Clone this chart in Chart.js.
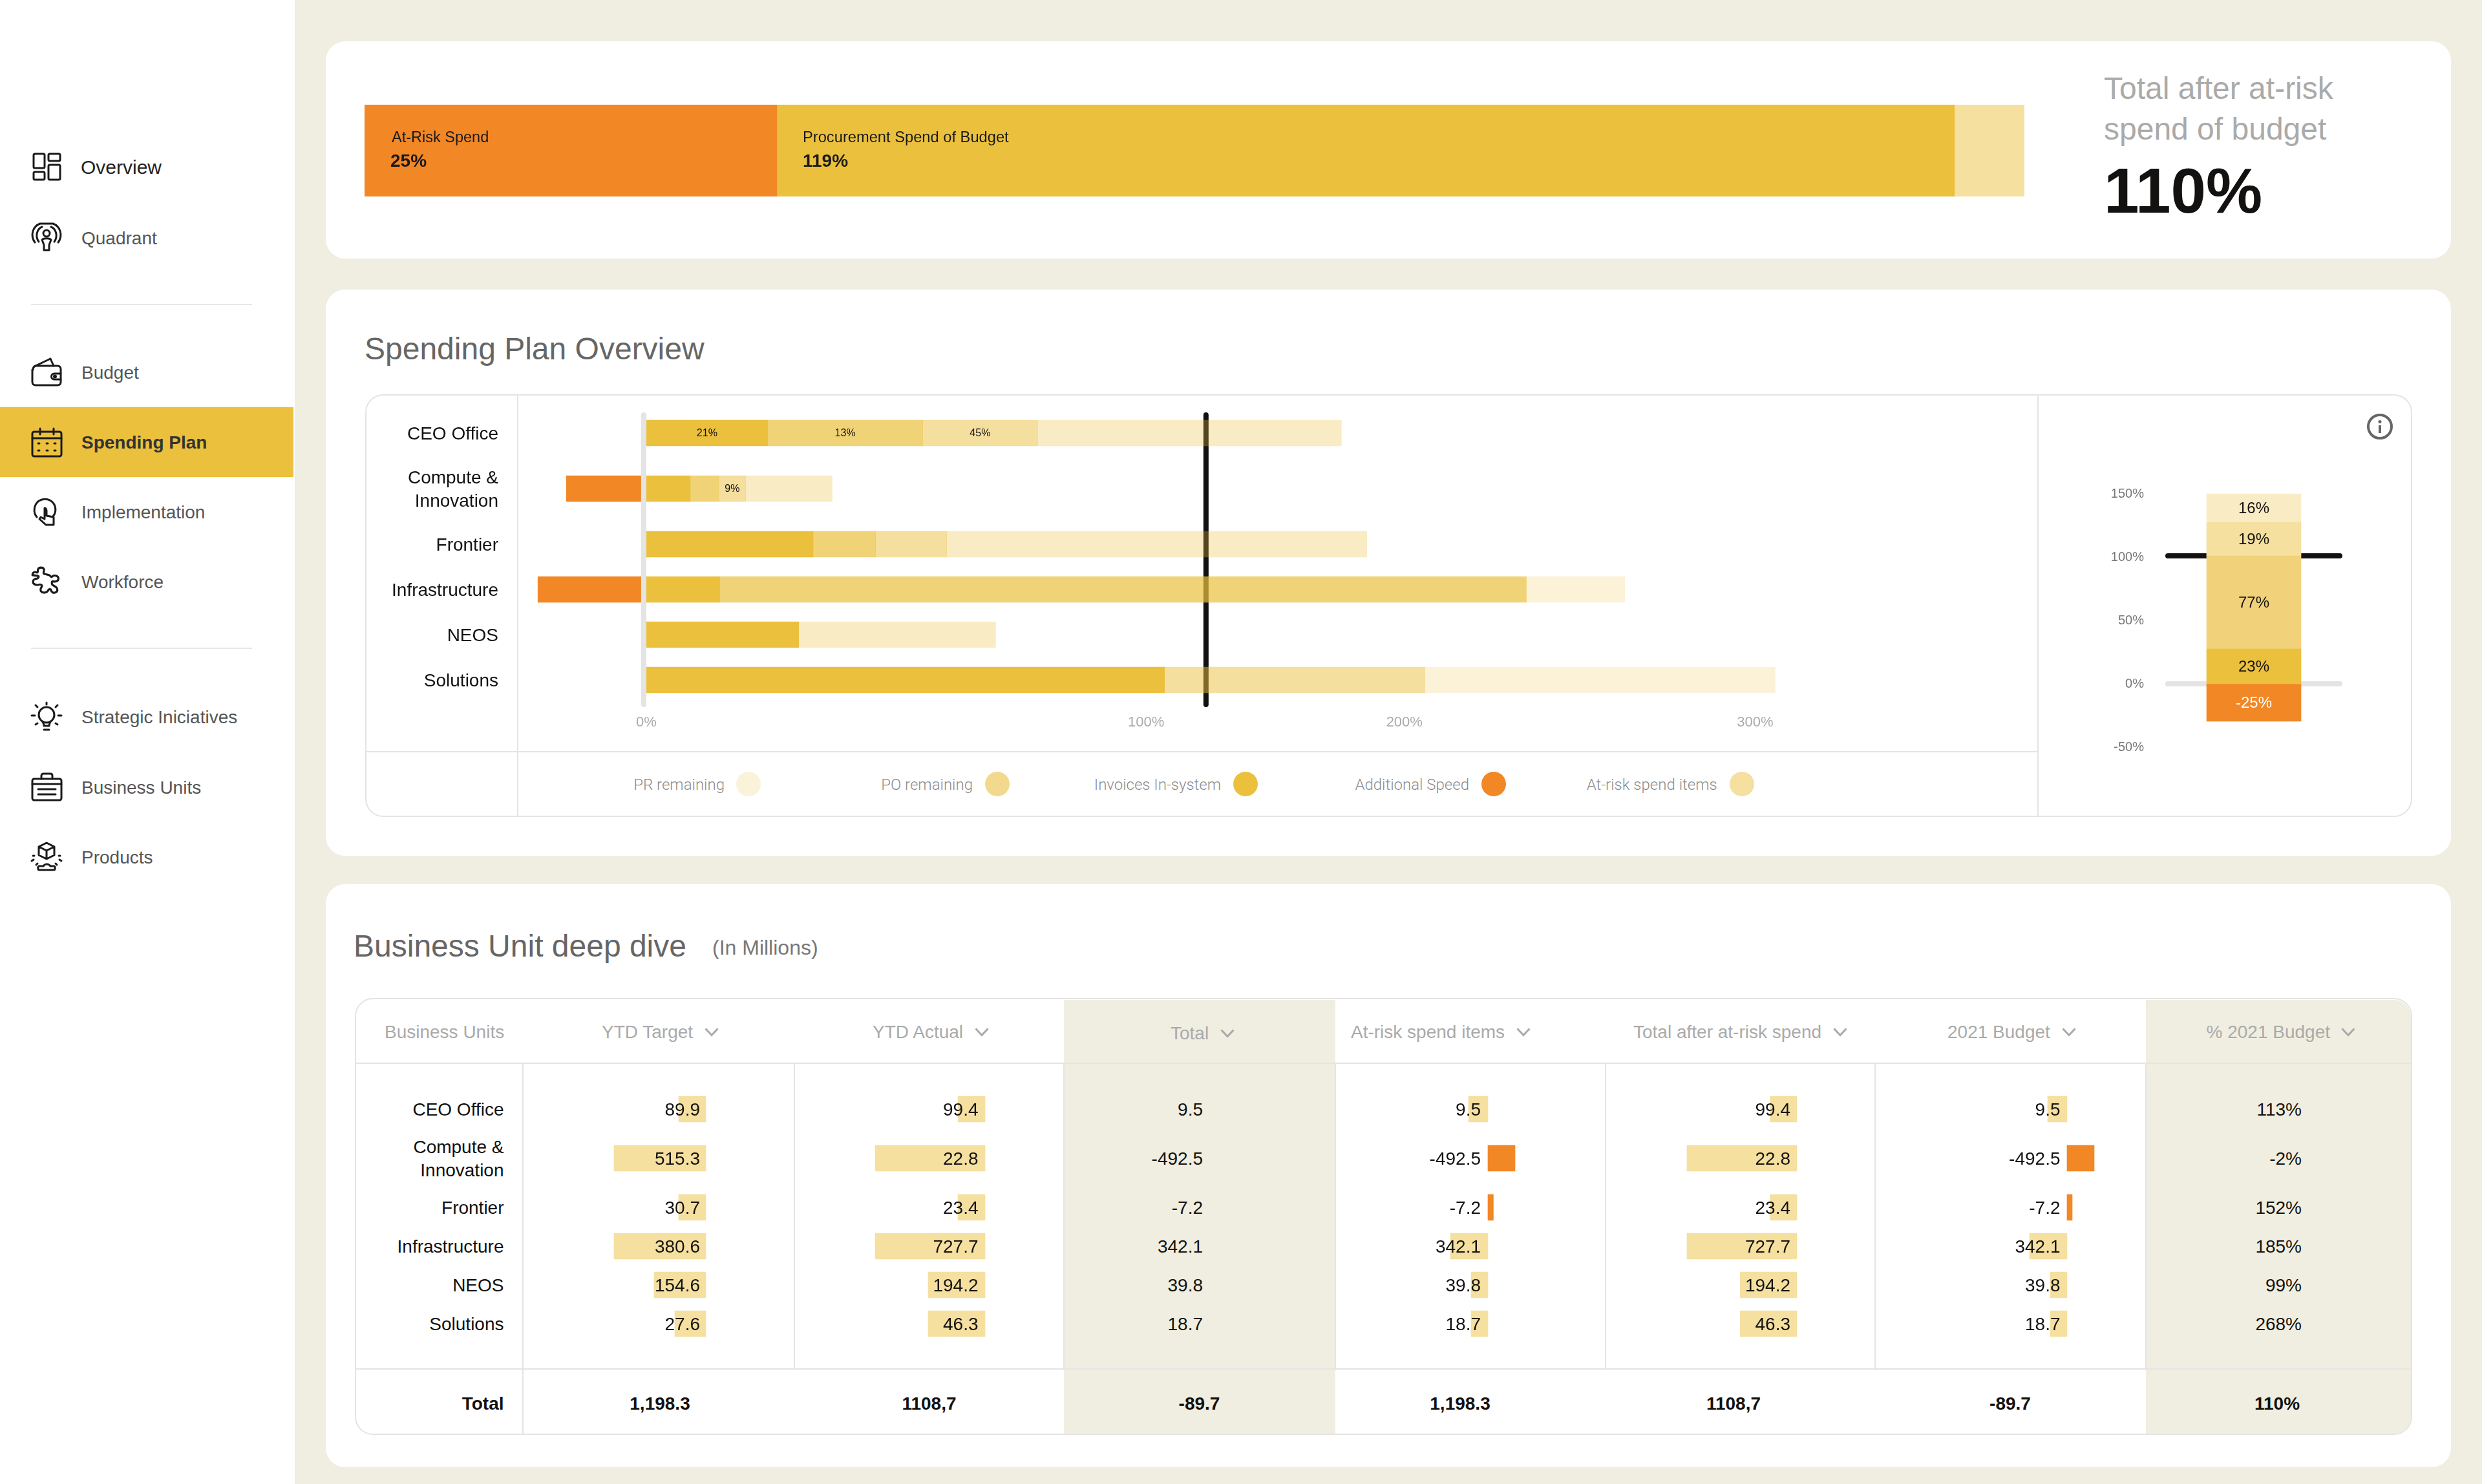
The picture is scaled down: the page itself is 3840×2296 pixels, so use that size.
<!DOCTYPE html>
<html><head><meta charset="utf-8">
<script src="https://cdn.jsdelivr.net/npm/chart.js@4"></script>
<style>
html,body{margin:0;padding:0;width:3840px;height:2296px;overflow:hidden;background:#f0eee0;font-family:"Liberation Sans",Arial,sans-serif}
#root{position:absolute;left:0;top:0;width:3840px;height:2296px}
.b{position:absolute;box-sizing:border-box}
.t{position:absolute;white-space:nowrap;line-height:1}
canvas{position:absolute;display:block}
svg{position:absolute;overflow:visible}
</style></head><body><div id="root"></div>
<script>
/* ---------- data ---------- */
const navItems=['Overview','Quadrant','Budget','Spending Plan','Implementation','Workforce','Strategic Iniciatives','Business Units','Products'];
const topBarLabels=['At-Risk Spend','Procurement Spend of Budget'];
const topBarTexts=['25%','119%'];
const topAtRisk=[24.84];
const topProcurement=[70.95];
const topRemainder=[4.21];
const units=['CEO Office',['Compute &','Innovation'],'Frontier','Infrastructure','NEOS','Solutions'];
const planRows=[0,86,172,242,312,382];
const planInvoices=[24.3,8.8,33.4,14.7,30.5,103.7];
const planPO=[31.0,5.7,12.5,161.4,null,null];
const planAtRisk=[23.0,5.4,14.2,null,null,52.1];
const planPR=[60.8,17.3,84.1,19.7,39.4,70.1];
const planAdditional=[null,-16.0,null,-21.7,null,null];
const planInvoiceLabels=['21%','','','','',''];
const planPOLabels=['13%','','','','',''];
const planAtRiskLabels=['45%','9%','','','',''];
const planTickValues=[0,100,151.7,221.9];
const planTickLabels=['0%','100%','200%','300%'];
const planTarget=[112];
const legendLabels=['PR remaining','PO remaining','Invoices In-system','Additional Speed','At-risk spend items'];
const sideTicks=[-50,0,50,100,150];
const sideValues=[27.5,73.5,26.5,22.5,-29.6];
const sideLabels=['23%','77%','19%','16%','-25%'];
const sideTarget=[101];
const tableRows=[0,76,152,212,272,332];
const tableHeaders=['Business Units','YTD Target','YTD Actual','Total','At-risk spend items','Total after at-risk spend','2021 Budget','% 2021 Budget'];
const tableUnits=['CEO Office',['Compute &','Innovation'],'Frontier','Infrastructure','NEOS','Solutions'];
const ytdTarget=['89.9','515.3','30.7','380.6','154.6','27.6'];
const ytdActual=['99.4','22.8','23.4','727.7','194.2','46.3'];
const totals=['9.5','-492.5','-7.2','342.1','39.8','18.7'];
const atRisk=['9.5','-492.5','-7.2','342.1','39.8','18.7'];
const afterRisk=['99.4','22.8','23.4','727.7','194.2','46.3'];
const budget2021=['9.5','-492.5','-7.2','342.1','39.8','18.7'];
const pctBudget=['113%','-2%','152%','185%','99%','268%'];
const ytdTargetBars=[42,142,42,142,80,48];
const ytdActualBars=[42,170,42,170,88,88];
const atRiskBars=[30,-42,-8.4,58,26,26];
const afterRiskBars=[41.4,170,41.4,170,87.6,87.6];
const budgetBars=[30,-42,-8,58,26,26];
const totalRow=['Total','1,198.3','1108,7','-89.7','1,198.3','1108,7','-89.7','110%'];

/* ---------- colours ---------- */
const ORANGE='#f28726',YEL='#ebc03d',Y7='#f1d27a',Y5='#f5e0a0',Y3='#f9ecc5',Y2='#fbf2da',BG='#f0eee0',LINE='#e4e4e4',INK='#141210';
const a=v=>`rgba(235,192,61,${v})`;

/* ---------- page helpers ---------- */
const root=document.getElementById('root');
function box(x,y,w,h,style){const d=document.createElement('div');d.className='b';d.style.cssText=`left:${x}px;top:${y}px;width:${w}px;height:${h}px;${style||''}`;root.appendChild(d);return d;}
function txt(s,x,y,o){o=o||{};const d=document.createElement('div');d.className='t';d.textContent=s;
 const tx=o.align==='right'?'-100%':o.align==='center'?'-50%':'0';
 d.style.cssText=`left:${x}px;top:${y}px;transform:translate(${tx},-50%);font-size:${o.size||28}px;color:${o.color||'#111'};font-weight:${o.weight||400};font-family:${o.font||'"Liberation Sans"'};`;
 root.appendChild(d);return d;}
function canvas(x,y,w,h){const c=document.createElement('canvas');c.width=w;c.height=h;c.style.cssText=`left:${x}px;top:${y}px;width:${w}px;height:${h}px`;root.appendChild(c);return c;}
function svg(x,y,w,h,inner){const d=document.createElementNS('http://www.w3.org/2000/svg','svg');d.setAttribute('width',w);d.setAttribute('height',h);d.setAttribute('viewBox',`0 0 ${w} ${h}`);d.style.left=x+'px';d.style.top=y+'px';d.innerHTML=inner;root.appendChild(d);return d;}

Chart.defaults.font.family='"Liberation Sans"';
Chart.defaults.animation=false;
Chart.defaults.responsive=false;
Chart.defaults.devicePixelRatio=1;
Chart.defaults.plugins.legend.display=false;
Chart.defaults.plugins.tooltip.enabled=false;
const noPad={padding:0,autoPadding:false};

/* ---------- shell ---------- */
box(0,0,456,2296,'background:#fff');
box(0,630,454,108,`background:${YEL}`);
box(48,470,342,2,'background:#e8e8e8');
box(48,1002,342,2,'background:#e8e8e8');
box(504,64,3288,336,'background:#fff;border-radius:30px');
box(504,448,3288,876,'background:#fff;border-radius:30px');
box(504,1368,3288,902,'background:#fff;border-radius:30px');

/* nav */
const navY=[259,369,577,685,793,901,1110,1219,1327];
const S='fill="none" stroke="#1a1a1a" stroke-width="3" stroke-linecap="round" stroke-linejoin="round"';
const icons=[
`<g ${S}><rect x="4" y="4" width="17" height="22" rx="2"/><rect x="4" y="32" width="17" height="12" rx="2"/><rect x="27" y="4" width="18" height="11" rx="2"/><rect x="27" y="21" width="18" height="23" rx="2"/></g>`,
`<g ${S}><circle cx="24" cy="17" r="5"/><path d="M17 27c2-3 12-3 14 0l-3 8v8h-8v-8z"/><path d="M12 30C6 22 9 10 17 7M36 30c6-8 3-20-5-23"/><path d="M6 31C-2 20 3 6 14 2h20c11 4 16 18 8 29" /></g>`,
`<g ${S}><path d="M3 20c0-3 1-5 4-6L30 3l5 11"/><path d="M7 14h34c3 0 5 2 5 5v20c0 3-2 5-5 5H7c-3 0-5-2-5-5V20"/><path d="M46 26H36a4.500 4.500 0 0 0 0 9h10"/><circle cx="37" cy="30.500" r="1.500"/></g>`,
`<g ${S}><rect x="2" y="8" width="45" height="38" rx="3"/><path d="M2 18h45M14 3v9M35 3v9"/><path d="M11 26h2M24 26h2M36 26h2M11 37h2M24 37h2M36 37h2"/></g>`,
`<g ${S}><path d="M9 32C3 25 4 13 12 7c8-5 18-3 23 4 4 6 4 14-1 20"/><path d="M21 18v17l-6-3-2 3 10 9h12v-12l-11-2V22c0-4-3-4-3-4z"/></g>`,
`<g ${S} transform="translate(-1,-1) scale(1.06)"><path d="M3 14c0-4 3-5 6-4 2 1 2-2 2-4 1-4 8-4 9 0 0 3-2 5 0 6l7 2c3 1 3 4 5 2 3-3 9-1 9 3 0 4-5 5-8 4-2 0-2 3-1 5l6 4c2 2 2 6-1 7-3 2-6 0-7-3 0-2-3-2-4 0-1 3-7 5-10 2-3-3 0-6 1-8 0-2-3-3-5-2-4 1-9-1-8-5 0-3 4-4 6-4 2-1 3-3 1-4z"/></g>`,
`<g ${S}><circle cx="24" cy="21" r="12"/><path d="M18 32c2 3 2 5 2 6h8c0-1 0-3 2-6M20 44h8"/><path d="M24 2v3M7 6l3 3M41 6l-3 3M1 22h5M42 22h5M7 36l3-2M41 36l-3-2"/></g>`,
`<g ${S}><rect x="2" y="11" width="45" height="33" rx="3"/><path d="M16 11V6c0-2 2-3 3-3h11c2 0 3 1 3 3v5M2 19h45M11 27h27M11 35h27"/></g>`,
`<g ${S}><path d="M24 2l12 6v13l-12 6-12-6V8zM12 8l12 6 12-6M24 14v13"/><path d="M13 44c-3 0-3-6 0-6h6c3-4 8-4 11 0h5c3 0 3 6 0 6zM3 22l2 0M1 30l3-2M45 22l-2 0M47 30l-3-2M8 36l2-2M40 36l-2-2"/></g>`];
navItems.forEach((n,i)=>{
  svg(48,navY[i]-25,48,48,icons[i]);
  txt(n,i===0?125:126,navY[i],{size:i===0?30:28,color:i===0?'#222':(i===3?'#333':'#555'),weight:i===3?700:400});
});

/* ---------- top strip ---------- */
new Chart(canvas(564,162,2568,142),{type:'bar',
 data:{labels:[''],datasets:[
  {data:topAtRisk,backgroundColor:ORANGE},
  {data:topProcurement,backgroundColor:YEL},
  {data:topRemainder,backgroundColor:Y5}]},
 options:{indexAxis:'y',layout:noPad,barPercentage:1,categoryPercentage:1,
  scales:{x:{display:false,stacked:true,min:0,max:100},y:{display:false,stacked:true}}}});
txt(topBarLabels[0],606,213,{size:23.5,color:'#1a1a1a'});
txt(topBarTexts[0],604,249,{size:28,weight:700,color:'#1a1a1a'});
txt(topBarLabels[1],1242,213,{size:23.7,color:'#1a1a1a'});
txt(topBarTexts[1],1242,249,{size:28,weight:700,color:'#1a1a1a'});
txt('Total after at-risk',3255,137,{size:48,color:'#aaa'});
txt('spend of budget',3255,200,{size:48,color:'#aaa'});
txt('110%',3255,295,{size:98,weight:700,color:INK});

/* ---------- spending plan ---------- */
txt('Spending Plan Overview',564,540,{size:48,color:'#666'});
box(565,610,3167,654,`border:2px solid ${LINE};border-radius:28px`);
box(800,611,2,652,`background:${LINE}`);
box(3152,611,2,652,`background:${LINE}`);
box(566,1162,2587,2,`background:${LINE}`);

const planLines={id:'planLines',
 beforeDatasetsDraw(c){const g=c.ctx,x=c.scales.x,y=c.scales.y;
  g.save();g.lineCap='round';g.lineWidth=8;g.strokeStyle=INK;
  const px=x.getPixelForValue(planTarget[0]);
  g.beginPath();g.moveTo(px,y.top+30);g.lineTo(px,y.bottom-10);g.stroke();g.restore();},
 afterDatasetsDraw(c){const g=c.ctx,x=c.scales.x,y=c.scales.y;
  g.save();g.lineCap='round';g.lineWidth=8;g.strokeStyle=LINE;
  const px=x.getPixelForValue(0)-4;
  g.beginPath();g.moveTo(px,y.top+30);g.lineTo(px,y.bottom-10);g.stroke();
  g.fillStyle='#141210';g.font='16px "Liberation Sans"';g.textAlign='center';g.textBaseline='middle';
  [[0,planInvoiceLabels],[1,planPOLabels],[2,planAtRiskLabels]].forEach(([ds,lab])=>{
   c.getDatasetMeta(ds).data.forEach((el,i)=>{if(lab[i]){const p=el.getCenterPoint();g.fillText(lab[i],p.x,p.y+1);}});});
  g.restore();}};
const pts=arr=>arr.map((v,i)=>({x:v,y:planRows[i]}));
new Chart(canvas(560,612,2590,548),{type:'bar',
 data:{datasets:[
  {label:legendLabels[2],data:pts(planInvoices),backgroundColor:YEL},
  {label:legendLabels[1],data:pts(planPO),backgroundColor:a(.7)},
  {label:legendLabels[4],data:pts(planAtRisk),backgroundColor:a(.5)},
  {label:legendLabels[0],data:pts(planPR),backgroundColor:[a(.3),a(.3),a(.3),a(.2),a(.3),a(.2)]},
  {label:legendLabels[3],data:pts(planAdditional),backgroundColor:ORANGE}]},
 options:{indexAxis:'y',layout:noPad,barThickness:40,
  scales:{
   x:{type:'linear',stacked:true,min:-25.6,max:278.1,position:'bottom',
      afterFit(s){s.height=60;},
      afterBuildTicks(s){s.ticks=planTickValues.map(v=>({value:v}));},
      grid:{display:false,drawTicks:false},border:{display:false},
      ticks:{autoSkip:false,maxRotation:0,padding:5,color:'#aaa',font:{size:22},callback:(v,i)=>planTickLabels[i]}},
   y:{type:'linear',stacked:true,reverse:true,offset:false,min:-58,max:430,
      afterFit(s){s.width=242;s.paddingTop=0;s.paddingBottom=0;},
      afterBuildTicks(s){s.ticks=planRows.map(v=>({value:v}));},
      grid:{display:false,drawTicks:false},border:{display:false},
      ticks:{autoSkip:false,padding:31,labelOffset:2,color:'#141210',font:{size:28,lineHeight:1.28},callback:(v,i)=>units[i]}}}},
 plugins:[planLines]});

/* legend */
const legendItems=[[1121,1158,Y2],[1505,1542.5,'#f3d98e'],[1889,1926.5,YEL],[2273,2310.7,ORANGE],[2656.6,2695,Y5]];
legendItems.forEach((l,i)=>{
  txt(legendLabels[i],l[0],1214,{size:24,align:'right',color:'#8c8c8c',font:'Roboto',weight:300});
  box(l[1]-19,1194,38,38,`background:${l[2]};border-radius:50%`);
});

/* side chart */
const sideLines={id:'sideLines',
 beforeDatasetsDraw(c){const g=c.ctx,x=c.scales.x,y=c.scales.y,L=c.chartArea.left+24,R=c.chartArea.right-24;
  g.save();g.lineCap='round';g.lineWidth=8;
  g.strokeStyle=INK;g.beginPath();g.moveTo(L,y.getPixelForValue(sideTarget[0]));g.lineTo(R,y.getPixelForValue(sideTarget[0]));g.stroke();
  g.strokeStyle=LINE;g.beginPath();g.moveTo(L,y.getPixelForValue(0));g.lineTo(R,y.getPixelForValue(0));g.stroke();
  g.restore();},
 afterDatasetsDraw(c){const g=c.ctx;g.save();g.font='24px "Liberation Sans"';g.textAlign='center';g.textBaseline='middle';
  sideLabels.forEach((s,i)=>{const p=c.getDatasetMeta(i).data[0].getCenterPoint();g.fillStyle=i===4?'#fff':'#141210';g.fillText(s,p.x,p.y+1);});
  g.restore();}};
const sideColors=[YEL,Y7,Y5,Y3,ORANGE];
new Chart(canvas(3160,715,484,490),{type:'bar',
 data:{labels:[''],datasets:sideValues.map((v,i)=>({data:[v],backgroundColor:sideColors[i]}))},
 options:{layout:noPad,barThickness:146,
  scales:{x:{display:false,stacked:true},
   y:{stacked:true,min:-75,max:175,
      afterFit(s){s.width=170;s.paddingTop=0;s.paddingBottom=0;},
      afterBuildTicks(s){s.ticks=sideTicks.map(v=>({value:v}));},
      grid:{display:false,drawTicks:false},border:{display:false},
      ticks:{autoSkip:false,padding:13,color:'#777',font:{size:20},callback:v=>v+'%'}}}},
 plugins:[sideLines]});
svg(3660,638,44,44,`<circle cx="22" cy="22" r="18" fill="none" stroke="#666" stroke-width="4"/><rect x="20" y="20" width="4" height="12" fill="#666"/><circle cx="22" cy="14.500" r="2.500" fill="#666"/>`);

/* ---------- table ---------- */
txt('Business Unit deep dive',547,1464,{size:48,color:'#666'});
txt('(In Millions)',1102,1466,{size:32,color:'#777'});
box(1646,1547,420,671,`background:${BG}`);
box(3320,1547,410,671,`background:${BG};border-radius:0 26px 26px 0`);
box(549,1544,3183,676,`border:2px solid ${LINE};border-radius:28px`);
box(551,1644,3179,2,`background:${LINE}`);
box(551,2117,3179,2,`background:${LINE}`);
box(808,1646,2,572,`background:${LINE}`);
[1228,1645,2065,2483,2900,3319].forEach(x=>box(x,1646,2,474,`background:${LINE}`));

/* header */
const headerCells=[[595,null],[931,1101],[1350,1519],[1811,1898.500],[2090,2356.600],[2527,2847],[3013,3201],[3413.500,3633]];
tableHeaders.forEach((h,i)=>{
  txt(h,headerCells[i][0],(i===3?1598:1596)+1,{size:28,color:'#aaa'});
  if(headerCells[i][1]){const cx=headerCells[i][1];
    svg(cx-11,i===3?1592:1590,22,14,`<polyline points="1.500,1.500 11,11.500 20.500,1.500" fill="none" stroke="#aaa" stroke-width="3"/>`);}
});

/* cell bars, drawn from each column's bar array */
function cellBars(anchor,values){
  const left=230,right=70;
  new Chart(canvas(anchor-left,1660,left+right,430),{type:'bar',
   data:{datasets:[{data:values.map((v,i)=>({x:v,y:tableRows[i]})),
      backgroundColor:values.map(v=>v<0?ORANGE:Y5)}]},
   options:{indexAxis:'y',layout:noPad,barThickness:40,
    scales:{x:{type:'linear',display:false,reverse:true,min:-right,max:left},
            y:{type:'linear',display:false,reverse:true,offset:false,min:-56,max:374}}}});
}
cellBars(1092,ytdTargetBars);
cellBars(1524,ytdActualBars);
cellBars(2302,atRiskBars);
cellBars(2780,afterRiskBars);
cellBars(3198,budgetBars);

/* cell text */
const rowY=tableRows.map(v=>1717+v);
tableUnits.forEach((u,i)=>{
  if(Array.isArray(u)){txt(u[0],779.500,rowY[i]-18,{align:'right'});txt(u[1],779.500,rowY[i]+18,{align:'right'});}
  else txt(u,779.500,rowY[i],{align:'right'});
});
[[ytdTarget,1083],[ytdActual,1513.500],[totals,1861],[atRisk,2291],[afterRisk,2770],[budget2021,3187.500],[pctBudget,3561]].forEach(([col,x])=>{
  col.forEach((v,i)=>txt(v,x,rowY[i],{align:'right',color:'#141210'}));
});
const totalX=[779.500,1021,1437.500,1855.500,2259,2682,3110,3523];
totalRow.forEach((v,i)=>txt(v,totalX[i],2172,{align:i?'center':'right',weight:700,color:'#141210'}));
</script></body></html>
